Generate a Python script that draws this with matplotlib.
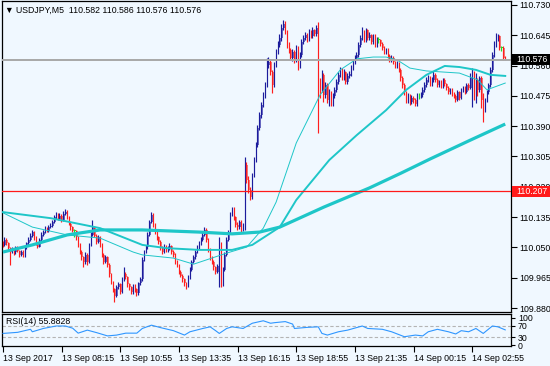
import matplotlib
matplotlib.use('Agg')
import matplotlib.pyplot as plt
from matplotlib.patches import Rectangle
import numpy as np

# ---------------- data ----------------
SYMBOL = "USDJPY,M5"
LAST_OHLC = ["110.582", "110.586", "110.576", "110.576"]
FIRST_OPEN = 110.062

CLOSE = [
110.058,110.072,110.061,110.047,110.038,110.044,110.036,110.050,110.041,110.030,
110.038,110.027,110.050,110.061,110.072,110.083,110.092,110.078,110.061,110.052,
110.072,110.086,110.094,110.103,110.097,110.108,110.111,110.122,110.134,110.142,
110.131,110.139,110.128,110.145,110.150,110.134,110.117,110.106,110.097,110.097,
110.078,110.058,110.038,110.022,110.010,110.030,110.010,110.058,110.086,110.106,
110.083,110.066,110.078,110.058,110.030,110.010,110.022,110.002,109.974,109.952,
109.932,109.915,109.938,109.946,109.926,109.960,109.974,109.966,109.946,109.938,
109.926,109.943,109.932,109.921,109.949,109.960,110.016,110.038,110.050,110.086,
110.122,110.142,110.114,110.094,110.078,110.066,110.050,110.038,110.055,110.044,
110.047,110.055,110.038,110.030,110.010,109.999,109.982,109.971,109.960,109.949,
109.943,109.966,109.988,110.010,110.022,110.038,110.050,110.061,110.072,110.086,
110.100,110.072,110.044,110.022,110.010,109.994,109.982,109.999,110.058,109.974,
109.988,110.030,110.072,110.094,110.142,110.156,110.134,110.114,110.106,110.122,
110.100,110.111,110.282,110.240,110.212,110.190,110.254,110.296,110.338,110.386,
110.422,110.450,110.478,110.506,110.562,110.570,110.542,110.506,110.562,110.598,
110.618,110.638,110.666,110.677,110.654,110.618,110.604,110.582,110.598,110.576,
110.610,110.559,110.590,110.626,110.638,110.646,110.632,110.654,110.643,110.660,
110.649,110.666,110.520,110.492,110.534,110.478,110.506,110.464,110.486,110.453,
110.475,110.492,110.514,110.534,110.548,110.526,110.542,110.514,110.531,110.537,
110.554,110.570,110.582,110.590,110.618,110.638,110.654,110.632,110.660,110.638,
110.646,110.626,110.643,110.618,110.632,110.632,110.621,110.610,110.598,110.604,
110.587,110.576,110.582,110.570,110.559,110.565,110.548,110.526,110.506,110.486,
110.464,110.475,110.458,110.470,110.464,110.453,110.475,110.475,110.478,110.492,
110.506,110.520,110.526,110.509,110.520,110.534,110.520,110.506,110.514,110.503,
110.520,110.509,110.498,110.486,110.492,110.481,110.475,110.464,110.486,110.470,
110.492,110.498,110.486,110.506,110.498,110.526,110.542,110.478,110.520,110.492,
110.526,110.464,110.436,110.464,110.486,110.506,110.548,110.590,110.618,110.638,
110.643,110.610,110.610,110.582,110.576]

HIGH = [
110.068,110.078,110.076,110.065,110.052,110.050,110.048,110.055,110.054,110.044,
110.044,110.042,110.054,110.066,110.078,110.090,110.099,110.096,110.082,110.066,
110.076,110.092,110.100,110.110,110.108,110.114,110.118,110.128,110.142,110.150,
110.146,110.146,110.143,110.152,110.158,110.154,110.137,110.120,110.110,110.102,
110.100,110.082,110.062,110.042,110.026,110.036,110.034,110.062,110.092,110.126,
110.110,110.088,110.084,110.082,110.062,110.034,110.030,110.026,110.006,109.978,
109.956,109.936,109.944,109.952,109.950,109.966,109.994,109.980,109.970,109.950,
109.942,109.948,109.948,109.936,109.954,109.966,110.022,110.044,110.056,110.092,
110.128,110.150,110.146,110.118,110.098,110.082,110.070,110.054,110.060,110.058,
110.054,110.062,110.058,110.042,110.034,110.014,110.003,109.986,109.976,109.964,
109.954,109.972,109.994,110.016,110.028,110.044,110.056,110.068,110.078,110.092,
110.106,110.104,110.076,110.048,110.026,110.014,109.998,110.004,110.080,110.066,
109.996,110.036,110.078,110.100,110.150,110.162,110.164,110.138,110.120,110.128,
110.126,110.118,110.304,110.290,110.250,110.220,110.260,110.304,110.346,110.394,
110.430,110.458,110.486,110.514,110.582,110.584,110.578,110.548,110.570,110.606,
110.628,110.648,110.676,110.688,110.686,110.660,110.626,110.610,110.606,110.604,
110.618,110.614,110.598,110.634,110.646,110.654,110.652,110.662,110.660,110.668,
110.664,110.674,110.682,110.526,110.548,110.540,110.514,110.512,110.494,110.490,
110.482,110.500,110.522,110.542,110.556,110.552,110.550,110.546,110.538,110.544,
110.562,110.578,110.590,110.598,110.626,110.646,110.668,110.660,110.666,110.664,
110.654,110.650,110.650,110.648,110.640,110.640,110.636,110.626,110.614,110.610,
110.608,110.592,110.590,110.586,110.574,110.572,110.570,110.552,110.530,110.510,
110.490,110.482,110.480,110.478,110.476,110.468,110.482,110.482,110.486,110.500,
110.514,110.528,110.534,110.530,110.528,110.544,110.540,110.524,110.520,110.520,
110.526,110.524,110.512,110.502,110.498,110.496,110.486,110.480,110.492,110.490,
110.498,110.504,110.502,110.512,110.512,110.540,110.554,110.546,110.540,110.526,
110.532,110.530,110.484,110.470,110.492,110.512,110.556,110.598,110.630,110.651,
110.650,110.646,110.616,110.614,110.586]

LOW = [
110.050,110.054,110.056,110.042,110.000,110.033,110.030,110.032,110.036,110.024,
110.026,110.022,110.024,110.046,110.057,110.068,110.080,110.072,110.056,110.047,
110.050,110.068,110.082,110.090,110.092,110.094,110.104,110.108,110.118,110.130,
110.126,110.127,110.122,110.125,110.140,110.130,110.112,110.100,110.092,110.080,
110.072,110.052,110.032,110.014,109.994,110.004,110.002,110.006,110.054,110.082,
110.078,110.060,110.062,110.052,110.024,110.004,110.006,109.996,109.968,109.946,
109.926,109.897,109.910,109.932,109.920,109.922,109.956,109.960,109.940,109.930,
109.918,109.920,109.926,109.914,109.916,109.944,109.956,110.012,110.034,110.046,
110.082,110.118,110.108,110.088,110.072,110.060,110.044,110.032,110.034,110.038,
110.038,110.042,110.032,110.024,110.004,109.994,109.976,109.966,109.954,109.942,
109.934,109.938,109.962,109.984,110.006,110.018,110.034,110.046,110.056,110.068,
110.082,110.066,110.038,110.016,110.004,109.988,109.976,109.978,109.938,109.940,
109.942,109.984,110.026,110.068,110.090,110.138,110.128,110.108,110.098,110.102,
110.094,110.096,110.100,110.232,110.204,110.184,110.186,110.248,110.290,110.332,
110.380,110.414,110.444,110.470,110.500,110.552,110.534,110.484,110.500,110.556,
110.592,110.612,110.630,110.660,110.648,110.610,110.596,110.576,110.574,110.568,
110.570,110.548,110.554,110.584,110.620,110.632,110.626,110.628,110.638,110.638,
110.642,110.644,110.372,110.470,110.486,110.458,110.470,110.456,110.446,110.446,
110.448,110.470,110.486,110.508,110.528,110.520,110.520,110.508,110.508,110.524,
110.530,110.548,110.564,110.576,110.584,110.612,110.632,110.626,110.626,110.632,
110.632,110.620,110.620,110.612,110.612,110.622,110.614,110.604,110.592,110.592,
110.580,110.570,110.570,110.564,110.552,110.552,110.542,110.518,110.498,110.478,
110.456,110.454,110.450,110.452,110.456,110.446,110.448,110.466,110.468,110.472,
110.486,110.500,110.514,110.502,110.504,110.514,110.514,110.500,110.500,110.498,
110.498,110.502,110.492,110.480,110.480,110.476,110.468,110.458,110.460,110.464,
110.466,110.486,110.480,110.482,110.492,110.494,110.444,110.464,110.456,110.476,
110.486,110.440,110.402,110.430,110.458,110.480,110.500,110.542,110.584,110.612,
110.630,110.604,110.602,110.576,110.576]

BID = 110.576
LEVEL = 110.207

MA_SLOW_IDX = [0, 16, 35, 53, 76, 107, 125, 140, 151, 175, 200, 217, 233, 255, 274]
MA_SLOW = [110.037, 110.057, 110.085, 110.099, 110.099, 110.093, 110.088, 110.093,
           110.107, 110.163, 110.217, 110.258, 110.298, 110.351, 110.396]

MA_MID_IDX = [0, 26, 53, 76, 89, 107, 125, 136, 151, 160, 178, 193, 209, 220, 231,
              241, 249, 258, 266, 274]
MA_MID = [110.149, 110.132, 110.104, 110.057, 110.048, 110.043, 110.043, 110.057,
          110.107, 110.183, 110.295, 110.365, 110.435, 110.492, 110.534, 110.559,
          110.556, 110.548, 110.534, 110.531]

MA_FAST_IDX = [0, 16, 35, 53, 71, 76, 93, 104, 111, 122, 133, 142, 149, 160, 173,
               184, 193, 202, 209, 215, 222, 231, 249, 259, 264, 274]
MA_FAST = [110.147, 110.107, 110.085, 110.076, 110.037, 110.029, 110.020, 110.003,
           110.015, 110.034, 110.051, 110.104, 110.177, 110.343, 110.478, 110.548,
           110.579, 110.584, 110.584, 110.576, 110.553, 110.545, 110.539, 110.520,
           110.492, 110.511]

RSI_IDX = [0, 8, 15, 16, 22, 29, 34, 38, 41, 46, 51, 57, 62, 67, 73, 76, 81, 86, 93,
           99, 102, 109, 113, 116, 118, 122, 125, 131, 136, 142, 146, 148, 154, 158,
           159, 166, 172, 174, 177, 183, 188, 196, 199, 207, 212, 219, 225, 229, 232,
           237, 243, 247, 250, 254, 258, 262, 267, 270, 274]
RSI_VAL = [43, 47, 58, 49, 61, 70, 70, 62, 44, 55, 46, 34, 37, 44, 44, 61, 73, 64, 53,
           37, 49, 61, 67, 53, 43, 61, 67, 61, 80, 89, 80, 82, 86, 77, 61, 65, 67, 43,
           37, 49, 55, 70, 61, 58, 49, 31, 37, 34, 49, 58, 49, 41, 53, 49, 61, 43, 70,
           67, 55.8828]
RSI_LABEL = "RSI(14) 55.8828"
RSI_LEVELS = [30, 70]
RSI_TICKS = [0, 30, 70, 100]

TIME_IDX = [0, 32, 64, 96, 128, 160, 192, 224, 256]
TIME_LABELS = ["13 Sep 2017", "13 Sep 08:15", "13 Sep 10:55", "13 Sep 13:35",
               "13 Sep 16:15", "13 Sep 18:55", "13 Sep 21:35", "14 Sep 00:15",
               "14 Sep 02:55"]
PRICE_TICKS = [109.880, 109.965, 110.050, 110.135, 110.220, 110.305, 110.390,
               110.475, 110.560, 110.645, 110.730]

# ---------------- style ----------------
W, H = 550, 366
BG = '#F0F8FF'
FONT = ['Liberation Sans', 'DejaVu Sans']
FS = 6.3
plt.rcParams['font.family'] = FONT

fig = plt.figure(figsize=(W / 100, H / 100), dpi=100, facecolor=BG)

ax = fig.add_axes([2 / W, 1 - 312 / H, 509 / W, 311.5 / H])
ax.set_facecolor(BG)
ax.set_xlim(-0.55, 277.15)
ax.set_ylim(109.8688, 110.7426)

n = len(CLOSE)
x = np.arange(n)
close = np.array(CLOSE)
opens = np.concatenate([[FIRST_OPEN], close[:-1]])
high = np.array(HIGH)
low = np.array(LOW)

up = close > opens
dn = close < opens
wick_col = np.where(up, '#1C1C9C', np.where(dn, '#FF1E1E', '#22DD22'))
body_col = np.where(up, '#6E6EC4', np.where(dn, '#F07E7E', '#22DD22'))
body_bot = np.minimum(opens, close)
body_h = np.maximum(np.abs(close - opens), 0.0015)

ax.bar(x + 0.3, body_h, bottom=body_bot, width=0.7, color=body_col, linewidth=0, zorder=2)
ax.vlines(x - 0.2, low, high, colors=wick_col, linewidth=0.85, zorder=3)

ma_col = '#1EC6C8'
ax.plot(MA_FAST_IDX, MA_FAST, color=ma_col, lw=0.7, zorder=4)
ax.plot(MA_MID_IDX, MA_MID, color=ma_col, lw=1.4, zorder=4)
ax.plot(MA_SLOW_IDX, MA_SLOW, color=ma_col, lw=2.3, zorder=4, solid_capstyle='butt')

ax.axhline(BID, color='#A8A8A8', lw=1.4, zorder=5)
ax.axhline(LEVEL, color='#FF1A1A', lw=0.9, zorder=5)

ax.yaxis.tick_right()
ax.set_yticks(PRICE_TICKS)
ax.set_yticklabels([f"{v:.3f}" for v in PRICE_TICKS])
ax.tick_params(axis='y', direction='out', length=4, width=0.8, pad=2,
               labelsize=FS, colors='black')
ax.set_xticks([])
for s in ax.spines.values():
    s.set_color('black')
    s.set_linewidth(0.9)

# price label boxes
bt = ax.get_yaxis_transform()
box_h = 11 / 356.5
for val, fc in [(BID, 'black'), (LEVEL, '#FF1A1A')]:
    ax.add_patch(Rectangle((1.0015, val - box_h / 2), 0.08, box_h, transform=bt,
                           facecolor=fc, edgecolor='none', clip_on=False, zorder=10))
    ax.text(1.010, val, f"{val:.3f}", transform=bt, ha='left', va='center',
            color='white', fontsize=FS, zorder=11, clip_on=False)

# title
fig.text(5 / W, 1 - 10 / H, "\u25BC " + SYMBOL + "  " + " ".join(LAST_OHLC),
         ha='left', va='center', fontsize=FS, color='black')

# ---------------- RSI panel ----------------
rax = fig.add_axes([2 / W, 1 - 346 / H, 509 / W, 32 / H])
rax.set_facecolor(BG)
rax.set_xlim(-0.55, 277.15)
rax.set_ylim(-2.7, 113.6)
rax.plot(RSI_IDX, RSI_VAL, color='#2E96FF', lw=0.8, zorder=3)
for lv in RSI_LEVELS:
    rax.axhline(lv, color='#B4B4B4', lw=0.8, ls=(0, (3, 2)), zorder=2)
rax.yaxis.tick_right()
rax.set_yticks(RSI_TICKS)
rax.set_yticklabels([str(v) for v in RSI_TICKS])
rax.tick_params(axis='y', direction='out', length=3, width=0.8, pad=2,
                labelsize=FS, colors='black')
rax.set_xticks(TIME_IDX)
rax.set_xticklabels(TIME_LABELS)
rax.tick_params(axis='x', direction='out', length=4, width=0.8, pad=1.5,
                labelsize=FS, colors='black')
for lab in rax.get_xticklabels():
    lab.set_ha('left')
for s in rax.spines.values():
    s.set_color('black')
    s.set_linewidth(0.9)
fig.text(6 / W, 1 - 322 / H, RSI_LABEL, ha='left', va='center', fontsize=FS,
         color='black')

fig.savefig('out.png', dpi=100, facecolor=BG)
